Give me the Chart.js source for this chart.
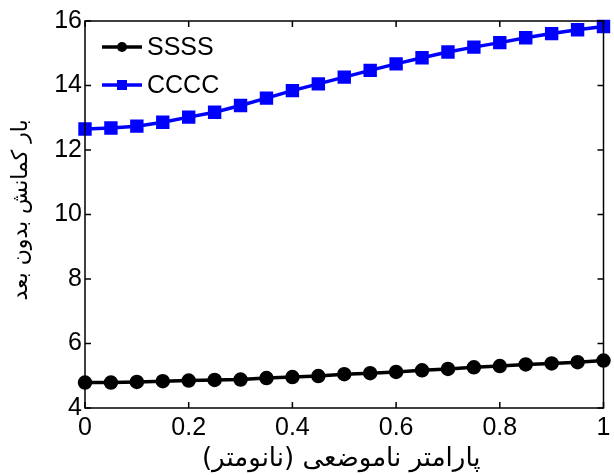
<!DOCTYPE html>
<html>
<head>
<meta charset="utf-8">
<script src="https://cdn.jsdelivr.net/npm/chart.js@4"></script>
<style>
  html, body { margin: 0; padding: 0; background: #fff; }
  #wrap { width: 614px; height: 475px; position: relative; }
</style>
</head>
<body>
<div id="wrap"><canvas id="myChart"></canvas></div>
<script>
// nonlocal parameter (nm)
const xValues = [0, 0.05, 0.1, 0.15, 0.2, 0.25, 0.3, 0.35, 0.4, 0.45, 0.5,
  0.55, 0.6, 0.65, 0.7, 0.75, 0.8, 0.85, 0.9, 0.95, 1]
const ssss = [4.79, 4.79, 4.81, 4.83, 4.85, 4.87, 4.88, 4.93, 4.96, 4.99, 5.05,
  5.08, 5.12, 5.17, 5.21, 5.26, 5.30, 5.35, 5.38, 5.42, 5.47]
const cccc = [12.65, 12.68, 12.74, 12.86, 13.02, 13.17, 13.38, 13.61, 13.84, 14.05, 14.26,
  14.47, 14.67, 14.86, 15.04, 15.19, 15.33, 15.48, 15.61, 15.73, 15.83]
const seriesNames = ['SSSS', 'CCCC']
const xTitle = 'پارامتر ناموضعی (نانومتر)'
const yTitle = 'بار کمانش بدون بعد'

const toPoints = (ys) => xValues.map((x, i) => ({ x: x, y: ys[i] }))
const tickFont = { family: '"Liberation Sans", Arial, sans-serif', size: 25 }

// box, inward ticks, legend and axis titles
const framePlugin = {
  id: 'frame',
  afterDraw(chart) {
    const ctx = chart.ctx
    const a = chart.chartArea
    const xs = chart.scales.x
    const ys = chart.scales.y
    const len = 6
    ctx.save()
    ctx.strokeStyle = '#000'
    ctx.lineWidth = 1.5
    ctx.strokeRect(a.left, a.top, a.right - a.left, a.bottom - a.top)
    ctx.beginPath()
    xs.ticks.forEach(t => {
      const px = xs.getPixelForValue(t.value)
      ctx.moveTo(px, a.bottom); ctx.lineTo(px, a.bottom - len)
      ctx.moveTo(px, a.top); ctx.lineTo(px, a.top + len)
    })
    ys.ticks.forEach(t => {
      const py = ys.getPixelForValue(t.value)
      ctx.moveTo(a.left, py); ctx.lineTo(a.left + len, py)
      ctx.moveTo(a.right, py); ctx.lineTo(a.right - len, py)
    })
    ctx.stroke()

    // legend
    chart.data.datasets.forEach((ds, i) => {
      const y = a.top + 26 + i * 38
      const x0 = a.left + 17
      ctx.strokeStyle = ds.borderColor
      ctx.lineWidth = ds.borderWidth
      ctx.beginPath()
      ctx.moveTo(x0, y); ctx.lineTo(x0 + 40, y)
      ctx.stroke()
      ctx.fillStyle = ds.pointBackgroundColor
      if (ds.pointStyle === 'rect') {
        ctx.fillRect(x0 + 20 - 5, y - 5, 10, 10)
      } else {
        ctx.beginPath()
        ctx.arc(x0 + 20, y, 5, 0, Math.PI * 2)
        ctx.fill()
      }
      ctx.fillStyle = '#000'
      ctx.font = '25px "Liberation Sans", Arial, sans-serif'
      ctx.textBaseline = 'middle'
      ctx.textAlign = 'left'
      ctx.fillText(ds.label, x0 + 45, y + 1)
    })

    // axis titles
    ctx.fillStyle = '#000'
    ctx.textAlign = 'center'
    ctx.textBaseline = 'middle'
    ctx.font = '26px "DejaVu Sans", sans-serif'
    ctx.fillText(xTitle, (a.left + a.right) / 2 - 3, 459)
    ctx.font = '22px "DejaVu Sans", sans-serif'
    ctx.translate(21, 210)
    ctx.rotate(-Math.PI / 2)
    ctx.fillText(yTitle, 0, 0)
    ctx.restore()
  }
}

const ctx = document.getElementById('myChart').getContext('2d')

const data = {
  datasets: [{
    label: seriesNames[0],
    data: toPoints(ssss),
    borderColor: '#000000',
    backgroundColor: '#000000',
    pointBackgroundColor: '#000000',
    pointBorderColor: '#000000',
    pointStyle: 'circle',
    pointRadius: 5.5,
    borderWidth: 3.5,
    clip: false
  }, {
    label: seriesNames[1],
    data: toPoints(cccc),
    borderColor: '#0000ff',
    backgroundColor: '#0000ff',
    pointBackgroundColor: '#0000ff',
    pointBorderColor: '#0000ff',
    pointStyle: 'rect',
    pointRadius: 7,
    borderWidth: 3.5,
    clip: false
  }]
}

const config = {
  type: 'line',
  data: data,
  options: {
    responsive: false,
    animation: false,
    layout: { padding: { top: 21, right: 6, left: 0, bottom: 0 } },
    plugins: { legend: { display: false }, tooltip: { enabled: false } },
    scales: {
      x: {
        type: 'linear', min: 0, max: 1,
        grid: { display: false, drawTicks: false },
        border: { display: false },
        ticks: { stepSize: 0.2, color: '#000', padding: 5, font: tickFont,
          callback: (v) => String(Math.round(v * 10) / 10) },
        afterFit: (s) => { s.height = 67; s.paddingLeft = 0; s.paddingRight = 0 }
      },
      y: {
        min: 4, max: 16,
        grid: { display: false, drawTicks: false },
        border: { display: false },
        ticks: { stepSize: 2, color: '#000', padding: 3, font: tickFont },
        afterFit: (s) => { s.width = 85; s.paddingTop = 0; s.paddingBottom = 0 }
      }
    }
  },
  plugins: [framePlugin]
}

const canvas = document.getElementById('myChart')
canvas.width = 614
canvas.height = 475
const myChart = new Chart(ctx, config)
</script>
</body>
</html>
